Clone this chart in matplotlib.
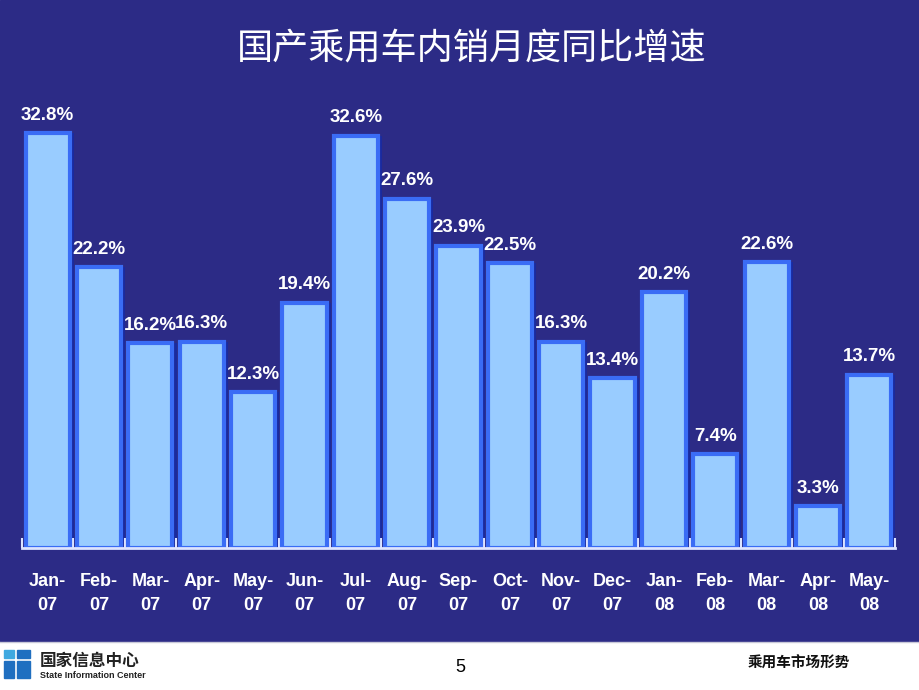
import matplotlib
matplotlib.use("Agg")
import matplotlib.pyplot as plt
from matplotlib.patches import Rectangle
from matplotlib import font_manager
import numpy as np

# ---------------------------------------------------------
# data
# ---------------------------------------------------------
months = ["Jan-\n07", "Feb-\n07", "Mar-\n07", "Apr-\n07", "May-\n07", "Jun-\n07",
          "Jul-\n07", "Aug-\n07", "Sep-\n07", "Oct-\n07", "Nov-\n07", "Dec-\n07",
          "Jan-\n08", "Feb-\n08", "Mar-\n08", "Apr-\n08", "May-\n08"]
growth = [32.8, 22.2, 16.2, 16.3, 12.3, 19.4, 32.6, 27.6, 23.9, 22.5,
          16.3, 13.4, 20.2, 7.4, 22.6, 3.3, 13.7]

title = "国产乘用车内销月度同比增速"

bg = "#2c2b86"
cjk = ["Noto Sans CJK SC", "DejaVu Sans"]

# narrow face for the value labels if there is one
names = {f.name for f in font_manager.fontManager.ttflist}
narrow = "Liberation Sans Narrow" if "Liberation Sans Narrow" in names else "Liberation Sans"
print("label font:", narrow)

W, H = 920, 690
fig = plt.figure(figsize=(W / 100, H / 100), dpi=100)
fig.patch.set_facecolor("white")

# background slide
bg_ax = fig.add_axes([0, 0, 1, 1])
bg_ax.set_xlim(0, W)
bg_ax.set_ylim(H, 0)
bg_ax.axis("off")
bg_ax.add_patch(Rectangle((0, 0), W, 641, color=bg, zorder=0))
bg_ax.plot([0, W], [641.5, 641.5], color="#c8c8d8", lw=1)

# title
bg_ax.text(472, 48, title, color="white", fontsize=26, fontweight="normal",
           family=cjk, ha="center", va="center")

# footer
bg_ax.add_patch(Rectangle((4, 650), 10, 8, color="#3fa9e0", zorder=2))
bg_ax.add_patch(Rectangle((17, 650), 13, 8, color="#1f6fc0", zorder=2))
bg_ax.add_patch(Rectangle((4, 661), 10, 17, color="#1f6fc0", zorder=2))
bg_ax.add_patch(Rectangle((17, 661), 13, 17, color="#1f6fc0", zorder=2))
bg_ax.text(40, 661, "国家信息中心", fontsize=12, fontweight="bold", family=cjk,
           color="#222222", va="center", ha="left")
bg_ax.text(40, 676, "State Information Center", fontsize=6.5, fontweight="bold",
           family=["Liberation Sans", "DejaVu Sans"], color="#222222",
           va="center", ha="left")
bg_ax.text(460, 668, "5", fontsize=13, family=["Liberation Sans", "DejaVu Sans"],
           color="black", va="center", ha="center")
bg_ax.text(799, 663, "乘用车市场形势", fontsize=10.5, fontweight="bold",
           family=cjk, color="#111111", va="center", ha="center")

# ---------------------------------------------------------
# chart
# ---------------------------------------------------------
left, right, base, top = 22, 895, 548, 100
ax = fig.add_axes([left / W, (H - base) / H, (right - left) / W, (base - top) / H])
ax.set_facecolor("none")
n = len(growth)
x = np.arange(n)
ymax = (base - top) / 12.65
ax.set_xlim(-0.5, n - 0.5)
ax.set_ylim(0, ymax)

# shadow, then bars
ax.bar(x + 0.07, growth, width=0.88, color="#1a2a9e", edgecolor="none", zorder=1)
ax.bar(x, growth, width=0.86, color="#99ccff", edgecolor="#3a6cf5",
       linewidth=3, zorder=2)

lab_size = 15 if narrow.endswith("Narrow") else 13.5
for xi, v in zip(x, growth):
    ax.text(xi, v + 0.75, f"{v:.1f}%", ha="center", va="bottom", color="white",
            fontsize=lab_size, fontweight="bold",
            family=[narrow, "DejaVu Sans"])

for s in ["top", "right", "left"]:
    ax.spines[s].set_visible(False)
ax.spines["bottom"].set_color("#dde4ff")
ax.spines["bottom"].set_linewidth(2)
ax.spines["bottom"].set_zorder(3)
ax.set_yticks([])

ax.set_xticks(np.arange(n + 1) - 0.5, minor=True)
ax.tick_params(axis="x", which="minor", direction="in", length=7, width=1.5,
               color="#dde4ff")
ax.set_xticks(x)
ax.set_xticklabels(months, color="white", fontsize=13, fontweight="bold",
                   family=["Liberation Sans", "DejaVu Sans"], linespacing=1.5)
ax.tick_params(axis="x", which="major", length=0, pad=18)

fig.savefig("out.png", dpi=100, facecolor=fig.get_facecolor())
